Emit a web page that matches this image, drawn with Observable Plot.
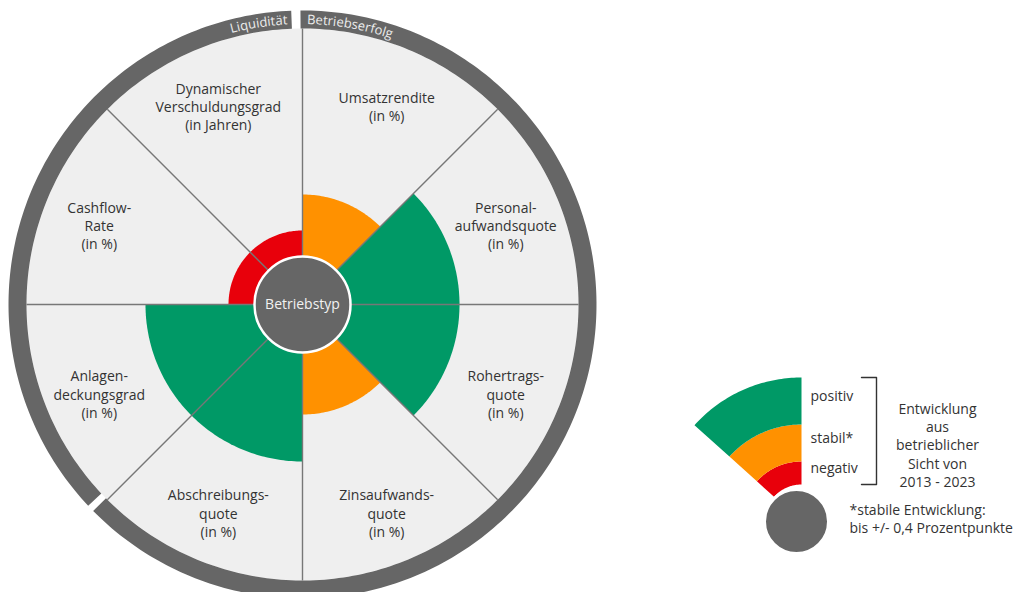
<!DOCTYPE html>
<html><head><meta charset="utf-8">
<script src="https://cdn.jsdelivr.net/npm/d3@7"></script>
<script src="https://cdn.jsdelivr.net/npm/@observablehq/plot@0.6"></script>
<style>body{margin:0;background:#fff;font-family:"Open Sans",sans-serif}</style>
</head><body><div id="chart"></div>
<script>
// ---------- data ----------
const categories = ["Umsatzrendite","Personalaufwandsquote","Rohertragsquote","Zinsaufwandsquote","Abschreibungsquote","Anlagendeckungsgrad","Cashflow-Rate","Dynamischer Verschuldungsgrad"];
const categoryLabels = ["Umsatzrendite\n(in %)","Personal-\naufwandsquote\n(in %)","Rohertrags-\nquote\n(in %)","Zinsaufwands-\nquote\n(in %)","Abschreibungs-\nquote\n(in %)","Anlagen-\ndeckungsgrad\n(in %)","Cashflow-\nRate\n(in %)","Dynamischer\nVerschuldungsgrad\n(in Jahren)"];
const status = ["stabil","positiv","positiv","stabil","positiv","positiv","negativ","negativ"];
const levels = ["negativ","stabil","positiv"];
const levelColors = ["#e8000b","#ff9100","#009966"];
const groups = ["Betriebserfolg","Liquidität"];
const centerLabel = "Betriebstyp";
const legendLabels = ["negativ","stabil*","positiv"];
const legendNote = "Entwicklung\naus\nbetrieblicher\nSicht von\n2013 - 2023";
const footNote = "*stabile Entwicklung:\nbis +/- 0,4 Prozentpunkte";

// ---------- geometry helpers ----------
const levelRadius = {negativ: 74, stabil: 110, positiv: 157};
const wheelR = 276, hubR = 48, ringIn = 276, ringOut = 294, step = 360 / categories.length;
const polar = (r, deg, ox = 0, oy = 0) => {
  const a = deg * Math.PI / 180;
  return {x: ox + r * Math.sin(a), y: oy - r * Math.cos(a)};
};
const arcPts = (r, a0, a1, ox, oy) => {
  const n = Math.max(2, Math.ceil(Math.abs(a1 - a0)));
  return d3.range(n + 1).map(k => polar(r, a0 + (a1 - a0) * k / n, ox, oy));
};
const annulus = (id, rIn, rOut, a0, a1, ox = 0, oy = 0, extra = {}) =>
  [...arcPts(rOut, a0, a1, ox, oy), ...arcPts(rIn, a1, a0, ox, oy)].map(p => ({id, ...extra, ...p}));

// sectors
const sectorPts = categories.flatMap((c, i) =>
  [{id: c, status: status[i], x: 0, y: 0}, ...arcPts(levelRadius[status[i]], i * step, (i + 1) * step).map(p => ({id: c, status: status[i], ...p}))]
);
// outer ring segments (with gaps)
const gapTop = [-2.2, -0.4], gapLow = [225.4, 226.8];
const ringPts = [
  ...annulus(groups[0], ringIn, ringOut, gapTop[1], gapLow[0]),
  ...annulus(groups[1], ringIn, ringOut, gapLow[1], 360 + gapTop[0])
];
// spokes
const spokes = categories.map((c, i) => {
  const p = polar(wheelR, i * step);
  return {x1: 0, y1: 0, x2: p.x, y2: p.y};
});
// labels
const labelData = categories.map((c, i) => {
  const p = polar(220, (i + 0.5) * step);
  return {text: categoryLabels[i], x: p.x, y: p.y + 5};
});

// legend
const LX = 499, LY = 217; // legend wedge origin (chart units)
const legendR = [37, 60, 97, 144];
const legendA = [-48, 0];
const legendPts = levels.flatMap((l, i) => annulus(l, legendR[i], legendR[i + 1], legendA[0], legendA[1], LX, LY, {status: l}));
const legendText = levels.map((l, i) => ({text: legendLabels[i], x: LX + 9, y: LY - (legendR[i] + legendR[i + 1]) / 2 - 4}));
const bx = LX + 75, bt = LY - legendR[3], bb = LY - legendR[0];
const bracket = [{x: bx - 15, y: bt}, {x: bx, y: bt}, {x: bx, y: bb}, {x: bx - 15, y: bb}];

const font = "'Open Sans', sans-serif";
const plot = Plot.plot({
  width: 1017, height: 592,
  margin: 0,
  x: {domain: [-302, 715], range: [0, 1017], axis: null},
  y: {domain: [-304, 288], range: [0, 592], axis: null},
  color: {domain: levels, range: levelColors},
  style: {background: "#fff", fontFamily: font},
  marks: [
    Plot.dot([{x: 0, y: 0}], {x: "x", y: "y", r: wheelR, fill: "#efefef", stroke: "none"}),
    Plot.line(ringPts, {x: "x", y: "y", z: "id", fill: "#666666", stroke: "none", curve: "linear"}),
    Plot.line(sectorPts, {x: "x", y: "y", z: "id", fill: "status", stroke: "none", curve: "linear"}),
    Plot.link(spokes, {x1: "x1", y1: "y1", x2: "x2", y2: "y2", stroke: "#777", strokeWidth: 1.4}),
    Plot.dot([{x: 0, y: 0}], {x: "x", y: "y", r: hubR, fill: "#666666", stroke: "#fff", strokeWidth: 2.5}),
    Plot.text([centerLabel], {x: 0, y: 0, text: d => d, fill: "#f2f2f2", fontSize: 14, fontFamily: font}),
    Plot.text(labelData, {x: "x", y: "y", text: "text", fill: "#333", fontSize: 14, lineHeight: 1.3, fontFamily: font}),
    // legend
    Plot.line(legendPts, {x: "x", y: "y", z: "id", fill: "status", stroke: "none", curve: "linear"}),
    Plot.dot([{x: LX - 5, y: LY}], {x: "x", y: "y", r: 32, fill: "#666666", stroke: "#fff", strokeWidth: 3}),
    Plot.text(legendText, {x: "x", y: "y", text: "text", textAnchor: "start", fill: "#333", fontSize: 14, fontFamily: font}),
    Plot.line(bracket, {x: "x", y: "y", stroke: "#333", strokeWidth: 1.4, curve: "linear"}),
    Plot.text([legendNote], {x: LX + 136, y: LY - 77, text: d => d, fill: "#333", fontSize: 14, lineHeight: 1.3, fontFamily: font}),
    Plot.text([footNote], {x: LX + 48, y: LY - 3, text: d => d, textAnchor: "start", fill: "#333", fontSize: 14, lineHeight: 1.3, fontFamily: font})
  ]
});
document.getElementById("chart").appendChild(plot);

// curved group labels on the outer ring
const sx = plot.scale("x"), sy = plot.scale("y");
const rb = 280;
const c0 = {x: sx.apply(0), y: sy.apply(0)};
const svg = d3.select(plot);
const defs = svg.append("defs");
defs.append("path").attr("id", "ringPath")
  .attr("d", `M${c0.x - rb},${c0.y} A${rb},${rb} 0 0 1 ${c0.x + rb},${c0.y}`);
const off = a => (a + 90) / 180 * Math.PI * rb;
const gLab = svg.append("g").attr("font-family", font).attr("font-size", 13).attr("fill", "#ececec");
gLab.append("text").append("textPath").attr("href", "#ringPath")
  .attr("startOffset", off(-3)).attr("text-anchor", "end").text(groups[1]);
gLab.append("text").append("textPath").attr("href", "#ringPath")
  .attr("startOffset", off(1)).attr("text-anchor", "start").text(groups[0]);
</script>
</body></html>
